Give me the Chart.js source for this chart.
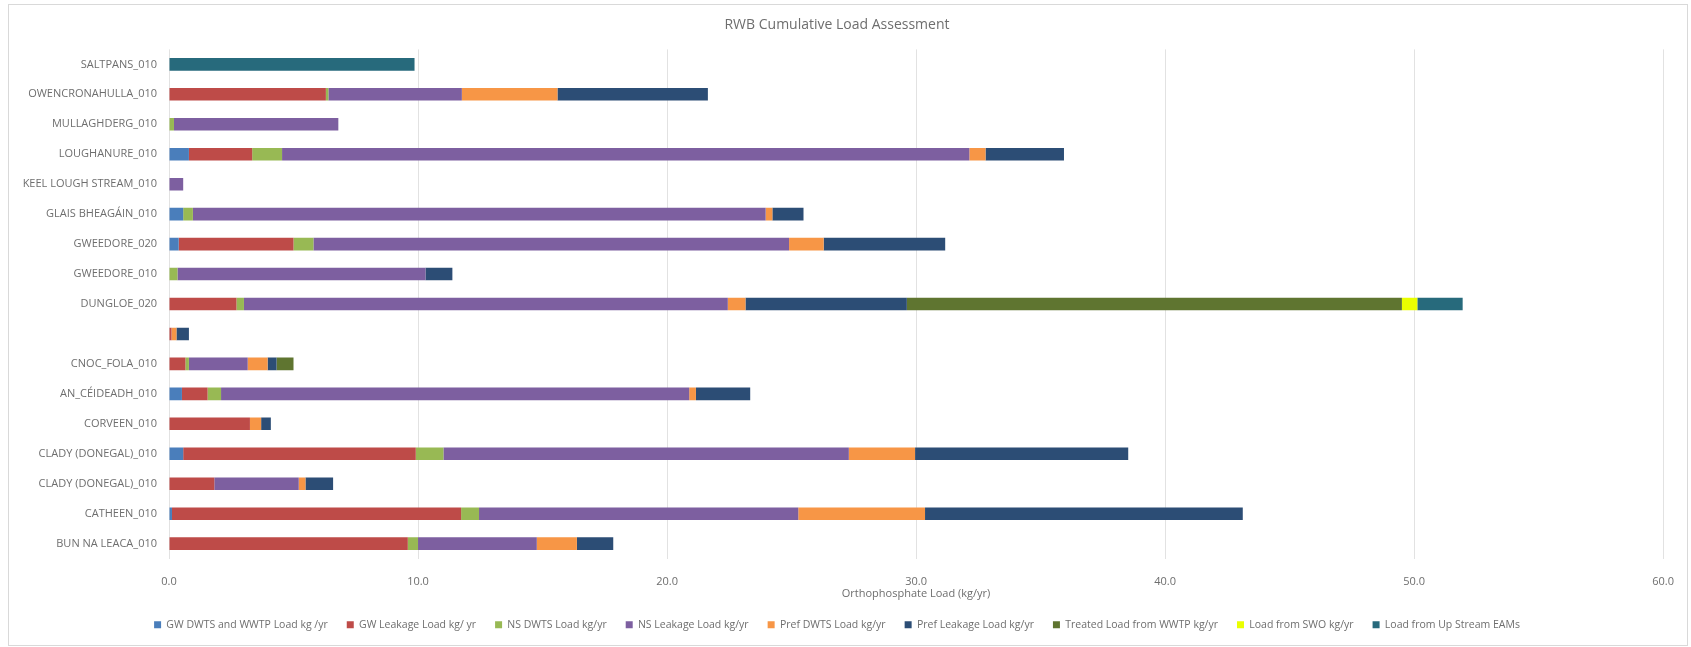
<!DOCTYPE html>
<html>
<head>
<meta charset="utf-8">
<title>RWB Cumulative Load Assessment</title>
<script src="https://cdn.jsdelivr.net/npm/chart.js@4.4.1/dist/chart.umd.min.js"></script>
<style>
    html, body { margin: 0; padding: 0; background: #fff; }
    #wrap { position: relative; width: 1691px; height: 647px; }
    #frame {
        position: absolute; left: 8px; top: 4px; width: 1680px; height: 642px;
        border: 1px solid #d9d9d9; box-sizing: border-box; pointer-events: none;
    }
</style>
</head>
<body>
<div id="wrap">
    <canvas id="loadChart" width="1691" height="647"></canvas>
    <div id="frame"></div>
</div>
<script>
// categories, top to bottom as drawn
const waterBodies = [
    'SALTPANS_010', 'OWENCRONAHULLA_010', 'MULLAGHDERG_010', 'LOUGHANURE_010',
    'KEEL LOUGH STREAM_010', 'GLAIS BHEAGÁIN_010', 'GWEEDORE_020', 'GWEEDORE_010',
    'DUNGLOE_020', '', 'CNOC_FOLA_010', 'AN_CÉIDEADH_010', 'CORVEEN_010',
    'CLADY (DONEGAL)_010', 'CLADY (DONEGAL)_010', 'CATHEEN_010', 'BUN NA LEACA_010'
];

// loads in kg/yr
const gwDwtsLoad   = [0, 0, 0, 0.8, 0, 0.57, 0.39, 0, 0, 0, 0, 0.52, 0, 0.57, 0, 0.12, 0];
const gwLeakLoad   = [0, 6.3, 0, 2.54, 0, 0, 4.61, 0, 2.71, 0.1, 0.66, 1.03, 3.25, 9.34, 1.82, 11.61, 9.59];
const nsDwtsLoad   = [0, 0.1, 0.2, 1.2, 0, 0.39, 0.8, 0.34, 0.3, 0, 0.14, 0.54, 0, 1.11, 0, 0.72, 0.41];
const nsLeakLoad   = [0, 5.36, 6.6, 27.6, 0.57, 23.0, 19.1, 9.96, 19.43, 0, 2.36, 18.8, 0, 16.28, 3.39, 12.82, 4.77];
const prefDwtsLoad = [0, 3.84, 0, 0.65, 0, 0.27, 1.39, 0, 0.71, 0.2, 0.8, 0.27, 0.45, 2.66, 0.27, 5.09, 1.61];
const prefLeakLoad = [0, 6.04, 0, 3.15, 0, 1.25, 4.88, 1.08, 6.48, 0.5, 0.36, 2.18, 0.39, 8.56, 1.11, 12.76, 1.46];
const wwtpLoad     = [0, 0, 0, 0, 0, 0, 0, 0, 19.88, 0, 0.68, 0, 0, 0, 0, 0, 0];
const swoLoad      = [0, 0, 0, 0, 0, 0, 0, 0, 0.62, 0, 0, 0, 0, 0, 0, 0, 0];
const upstreamLoad = [9.86, 0, 0, 0, 0, 0, 0, 0, 1.82, 0, 0, 0, 0, 0, 0, 0, 0];

const xTicks = [0, 10, 20, 30, 40, 50, 60];

const seriesNames = [
    'GW DWTS and WWTP Load kg /yr', 'GW Leakage Load kg/ yr', 'NS DWTS Load kg/yr',
    'NS Leakage Load kg/yr', 'Pref DWTS Load kg/yr', 'Pref Leakage Load kg/yr',
    'Treated Load from WWTP kg/yr', 'Load from SWO kg/yr', 'Load from Up Stream EAMs'
];
const seriesData = [gwDwtsLoad, gwLeakLoad, nsDwtsLoad, nsLeakLoad, prefDwtsLoad,
                    prefLeakLoad, wwtpLoad, swoLoad, upstreamLoad];
const seriesColors = ['#4a7ebb', '#be4b48', '#98b954', '#7d5fa0', '#f79646',
                      '#2c4d75', '#5f7530', '#eaff00', '#276a7c'];

const textGrey = '#6e6e6e';
const baseFont = { family: '"Open Sans", sans-serif', size: 11 };

document.addEventListener('DOMContentLoaded', () => {
    const ctx = document.getElementById('loadChart').getContext('2d');
    new Chart(ctx, {
        type: 'bar',
        data: {
            labels: waterBodies,
            datasets: seriesNames.map((name, i) => ({
                label: name,
                data: seriesData[i],
                backgroundColor: seriesColors[i],
                borderWidth: 0,
                barPercentage: 0.42,
                categoryPercentage: 1.0
            }))
        },
        options: {
            indexAxis: 'y',
            responsive: false,
            animation: false,
            layout: { padding: { left: 8, right: 25, top: 0, bottom: 7 } },
            scales: {
                x: {
                    stacked: true,
                    min: xTicks[0],
                    max: xTicks[xTicks.length - 1],
                    afterBuildTicks: (scale) => { scale.ticks = xTicks.map(v => ({ value: v })); },
                    ticks: {
                        color: textGrey, font: baseFont, padding: 17,
                        callback: (v) => Number(v).toFixed(1)
                    },
                    grid: { color: '#e2e2e2', drawTicks: false },
                    border: { display: false },
                    title: {
                        display: true, text: 'Orthophosphate Load (kg/yr)',
                        color: textGrey, font: baseFont, padding: { top: -18.5, bottom: 0 }
                    }
                },
                y: {
                    stacked: true,
                    ticks: { color: textGrey, font: baseFont, padding: 12, autoSkip: false },
                    grid: { display: false, drawTicks: false },
                    border: { display: false },
                    afterFit: (scale) => { scale.width = 161; }
                }
            },
            plugins: {
                title: {
                    display: true, text: 'RWB Cumulative Load Assessment',
                    color: textGrey,
                    font: { family: '"Open Sans", sans-serif', size: 14, weight: 'normal' },
                    padding: { top: 16.6, bottom: 16 }
                },
                legend: {
                    position: 'bottom',
                    labels: {
                        boxWidth: 7, boxHeight: 7, color: textGrey, padding: 19,
                        font: { family: '"Open Sans", sans-serif', size: 10.5 }
                    }
                },
                tooltip: { enabled: true }
            }
        }
    });
});
</script>
</body>
</html>
